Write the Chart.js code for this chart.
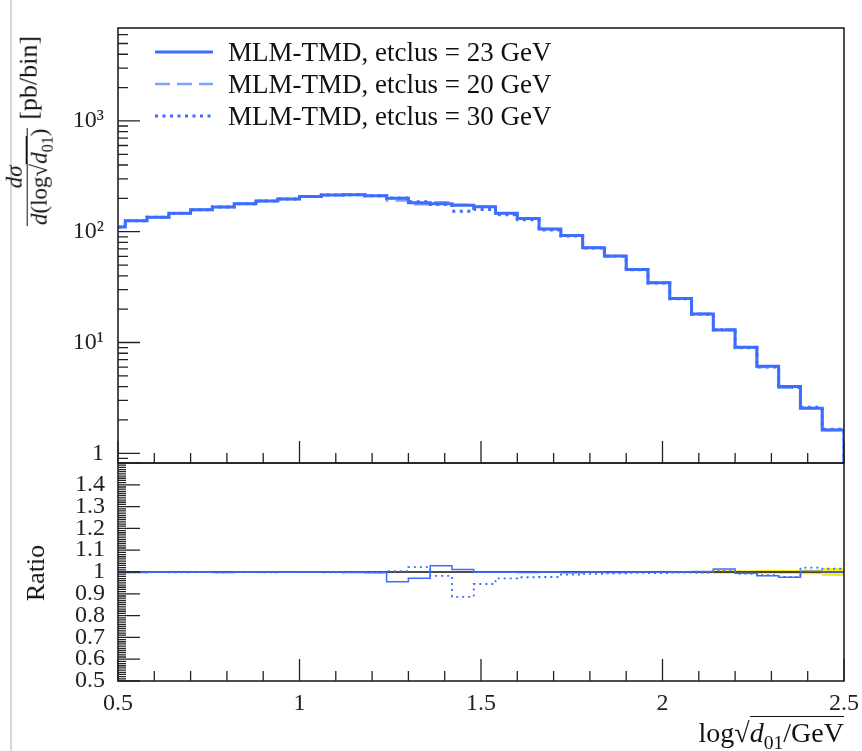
<!DOCTYPE html>
<html>
<head>
<meta charset="utf-8">
<script src="https://cdn.jsdelivr.net/npm/chart.js@4.4.1/dist/chart.umd.min.js"></script>
<style>
  body { margin: 0; background: #fff; width: 862px; height: 751px; overflow: hidden; position: relative;
         font-family: "Liberation Serif", "DejaVu Serif", serif; color: #111; }
  #edge { position: absolute; left: 10px; top: 0; width: 2px; height: 751px; background: #d8d8d8; }
  #mainChart { position: absolute; left: 0; top: 0; }
  #ratioChart { position: absolute; left: 0; top: 440px; }
  .ytitle { position: absolute; transform: translate(-50%, -50%) rotate(-90deg); white-space: nowrap; }
  .frac { display: inline-block; vertical-align: middle; text-align: center; font-size: 23px; line-height: 24px; margin-right: 8px; }
  .frac .num { display: block; border-bottom: 1px solid #111; padding: 0 3px; }
  .frac .den { display: block; padding: 0 1px; }
  .ov { border-top: 1px solid #111; }
  sub { font-size: 0.7em; }
  #xtitle { position: absolute; right: 18px; top: 718px; font-size: 28px; line-height: 30px; white-space: nowrap; }
</style>
</head>
<body>
<div id="edge"></div>
<canvas id="mainChart" width="862" height="470"></canvas>
<canvas id="ratioChart" width="862" height="311"></canvas>

<div class="ytitle" style="left:31px; top:131px; font-size:26px;">
  <span class="frac"><span class="num"><i>dσ</i></span><span class="den"><i>d</i>(log√<span class="ov"><i>d</i><sub>01</sub></span>)</span></span><span>[pb/bin]</span>
</div>
<div class="ytitle" style="left:36px; top:573px; font-size:26px;">Ratio</div>
<div id="xtitle">log√<span class="ov"><i>d</i><sub>01</sub>/GeV</span></div>

<script>
// bin edges of log sqrt(d01); first bin is cut by the axis at 0.5
const binEdges = [0.46, 0.52, 0.58, 0.64, 0.70, 0.76, 0.82, 0.88, 0.94, 1.00, 1.06, 1.12,
                  1.18, 1.24, 1.30, 1.36, 1.42, 1.48, 1.54, 1.60, 1.66, 1.72, 1.78, 1.84,
                  1.90, 1.96, 2.02, 2.08, 2.14, 2.20, 2.26, 2.32, 2.38, 2.44, 2.50];

// dsigma/dlog sqrt(d01) [pb/bin], etclus = 23 GeV (reference)
const xsec23 = [110.3, 125.7, 134.9, 146.6, 158.0, 167.1, 178.9, 189.3, 197.3, 207.8, 214.4, 215.8,
                211.3, 200.2, 182.7, 178.9, 173.1, 168.1, 146.6, 131.6, 105.8, 92.4, 71.7, 60.3,
                45.6, 34.7, 24.9, 18.1, 12.97, 9.05, 6.10, 4.01, 2.55, 1.62];

// ratio to the 23 GeV curve
const ratio20 = [1.000, 0.998, 1.000, 0.999, 1.000, 0.998, 1.000, 1.000, 0.999, 1.000, 1.000, 0.998,
                 0.996, 0.955, 0.971, 1.029, 1.011, 0.999, 0.999, 0.998, 1.000, 0.997, 1.000, 0.998,
                 1.000, 0.999, 1.000, 1.002, 1.014, 0.994, 0.983, 0.976, 1.003, 1.000];
const ratio30 = [0.999, 0.998, 1.000, 0.998, 0.999, 0.998, 0.999, 0.998, 0.999, 0.999, 0.998, 0.999,
                 1.000, 1.004, 1.022, 0.982, 0.886, 0.945, 0.971, 0.976, 0.977, 0.988, 0.992, 0.994,
                 0.996, 0.995, 0.997, 0.996, 1.005, 0.992, 0.985, 0.978, 1.020, 1.015];
// relative stat. uncertainty of the reference (yellow band)
const refErr = [0, 0, 0, 0, 0, 0, 0, 0, 0, 0, 0, 0,
                0, 0, 0, 0, 0, 0, 0, 0, 0, 0, 0, 0,
                0.004, 0.004, 0.004, 0.005, 0.008, 0.008, 0.009, 0.009, 0.010, 0.018];

const seriesLabels = ["MLM-TMD, etclus = 23 GeV", "MLM-TMD, etclus = 20 GeV", "MLM-TMD, etclus = 30 GeV"];

const mainTicks = [1, 10, 100, 1000];
const mainTickLabels = { 1: "1", 10: "10¹", 100: "10²", 1000: "10³" };
const ratioTicks = [0.5, 0.6, 0.7, 0.8, 0.9, 1.0, 1.1, 1.2, 1.3, 1.4];
const xTicks = [0.5, 1, 1.5, 2, 2.5];

const yMainMin = 0.817, yMainMax = 6900;
const serif = "'Liberation Serif', 'DejaVu Serif', serif";
const blue = "#3d6dff", lightBlue = "#7ea2ff";

const xsec20 = xsec23.map((v, i) => v * ratio20[i]);
const xsec30 = xsec23.map((v, i) => v * ratio30[i]);

// histogram outline: one point per left bin edge, plus the last right edge
function stepPoints(values, closeTo) {
    const pts = values.map((v, i) => ({ x: binEdges[i], y: v }));
    pts.push({ x: binEdges[values.length], y: values[values.length - 1] });
    if (closeTo !== undefined) pts.push({ x: binEdges[values.length], y: closeTo });
    return pts;
}

function minorValues(from, to, step, skip) {
    const out = [];
    for (let v = from; v <= to + 1e-9; v += step) {
        const r = Math.round(v * 1000) / 1000;
        if (!skip.some(s => Math.abs(s - r) < 1e-6)) out.push(r);
    }
    return out;
}

const xMinor = minorValues(0.5, 2.5, 0.1, xTicks);
const ratioMajor = minorValues(0.5, 1.5, 0.1, []);
const ratioMinor = minorValues(0.5, 1.5, 0.01, ratioMajor);
const mainMinor = [];
[0.1, 1, 10, 100, 1000].forEach(d => {
    for (let k = 2; k <= 9; k++) {
        if (d * k > yMainMin && d * k < yMainMax) mainMinor.push(d * k);
    }
});

// keep the chart area exactly where the layout padding puts it
function fixWidth(w) {
    return s => { s.width = w; s.paddingTop = 0; s.paddingBottom = 0; };
}
function fixHeight(h) {
    return s => { s.height = h; s.paddingLeft = 0; s.paddingRight = 0; };
}

// ticks pointing into the frame, plus the frame itself
const innerTicks = {
    id: "innerTicks",
    afterDatasetsDraw(chart, args, opts) {
        const { ctx, chartArea: a, scales } = chart;
        ctx.save();
        ctx.strokeStyle = "#222";
        ctx.lineWidth = 1.3;
        ctx.setLineDash([]);
        ctx.beginPath();
        const hTick = (v, len) => {
            const px = scales.x.getPixelForValue(v);
            ctx.moveTo(px, a.bottom); ctx.lineTo(px, a.bottom - len);
        };
        const vTick = (v, len) => {
            const py = scales.y.getPixelForValue(v);
            ctx.moveTo(a.left, py); ctx.lineTo(a.left + len, py);
        };
        xTicks.forEach(v => hTick(v, 22));
        xMinor.forEach(v => hTick(v, 10));
        opts.yMajor.forEach(v => vTick(v, 22));
        opts.yMinor.forEach(v => vTick(v, opts.minorLen));
        ctx.stroke();
        ctx.lineWidth = 1.6;
        ctx.strokeRect(a.left, a.top, a.right - a.left, a.bottom - a.top);
        ctx.restore();
    }
};

const legendBox = {
    id: "legendBox",
    afterDraw(chart) {
        const { ctx, chartArea: a } = chart;
        ctx.save();
        chart.data.datasets.forEach((ds, i) => {
            const y = a.top + 24 + i * 32;
            ctx.strokeStyle = ds.borderColor;
            ctx.lineWidth = ds.borderWidth;
            ctx.setLineDash(ds.borderDash || []);
            ctx.beginPath();
            ctx.moveTo(a.left + 37, y);
            ctx.lineTo(a.left + 95, y);
            ctx.stroke();
            ctx.setLineDash([]);
            ctx.fillStyle = "#111";
            ctx.font = "27px " + serif;
            ctx.textBaseline = "alphabetic";
            ctx.fillText(ds.label, a.left + 110, y + 9);
        });
        ctx.restore();
    }
};

const tickFont = { family: serif, size: 24 };

new Chart(document.getElementById("mainChart"), {
    type: "line",
    data: {
        datasets: [
            { label: seriesLabels[0], data: stepPoints(xsec23, yMainMin / 2), borderColor: blue, borderWidth: 3, stepped: "before" },
            { label: seriesLabels[1], data: stepPoints(xsec20, yMainMin / 2), borderColor: lightBlue, borderWidth: 2.5, borderDash: [15, 7], stepped: "before" },
            { label: seriesLabels[2], data: stepPoints(xsec30, yMainMin / 2), borderColor: blue, borderWidth: 3, borderDash: [3, 4.5], stepped: "before" }
        ]
    },
    options: {
        responsive: false,
        animation: false,
        layout: { padding: { left: 0, top: 28, right: 18, bottom: 7 } },
        elements: { point: { radius: 0 } },
        plugins: {
            legend: { display: false },
            tooltip: { enabled: false },
            innerTicks: { yMajor: mainTicks, yMinor: mainMinor, minorLen: 10 }
        },
        scales: {
            x: { type: "linear", min: 0.5, max: 2.5, display: false },
            y: {
                type: "logarithmic", min: yMainMin, max: yMainMax,
                grid: { display: false, drawTicks: false }, border: { display: false },
                ticks: { padding: 14, color: "#222", font: tickFont, autoSkip: false,
                         callback: v => mainTickLabels[v] || "" },
                afterBuildTicks: s => { s.ticks = mainTicks.map(v => ({ value: v })); },
                afterFit: fixWidth(118)
            }
        }
    },
    plugins: [innerTicks, legendBox]
});

const fmt = v => String(Math.round(v * 100) / 100);

new Chart(document.getElementById("ratioChart"), {
    type: "line",
    data: {
        datasets: [
            { label: seriesLabels[2], data: stepPoints(ratio30), borderColor: blue, borderWidth: 1.8, borderDash: [2, 4], stepped: "before" },
            { label: seriesLabels[1], data: stepPoints(ratio20), borderColor: blue, borderWidth: 1.5, stepped: "before" },
            { label: "ref", data: stepPoints(xsec23.map(() => 1)), borderColor: "#111", borderWidth: 1.3, stepped: "before" },
            { label: "band up", data: stepPoints(refErr.map(e => 1 + e)), borderWidth: 0, borderColor: "rgba(0,0,0,0)", stepped: "before" },
            { label: "band down", data: stepPoints(refErr.map(e => 1 - e)), borderWidth: 0, borderColor: "rgba(0,0,0,0)",
              backgroundColor: "#fbec1a", fill: "-1", stepped: "before" }
        ]
    },
    options: {
        responsive: false,
        animation: false,
        layout: { padding: { left: 0, top: 23, right: 18, bottom: 0 } },
        elements: { point: { radius: 0 } },
        plugins: {
            legend: { display: false },
            tooltip: { enabled: false },
            innerTicks: { yMajor: ratioMajor, yMinor: ratioMinor, minorLen: 8 }
        },
        scales: {
            x: {
                type: "linear", min: 0.5, max: 2.5,
                grid: { display: false, drawTicks: false }, border: { display: false },
                ticks: { padding: 8, color: "#222", font: tickFont, maxRotation: 0, autoSkip: false,
                         callback: v => fmt(v) },
                afterBuildTicks: s => { s.ticks = xTicks.map(v => ({ value: v })); },
                afterFit: fixHeight(70)
            },
            y: {
                min: 0.5, max: 1.5,
                grid: { display: false, drawTicks: false }, border: { display: false },
                ticks: { padding: 13, color: "#222", font: tickFont, autoSkip: false,
                         callback: v => fmt(v) },
                afterBuildTicks: s => { s.ticks = ratioTicks.map(v => ({ value: v })); },
                afterFit: fixWidth(118)
            }
        }
    },
    plugins: [innerTicks]
});
</script>
</body>
</html>
